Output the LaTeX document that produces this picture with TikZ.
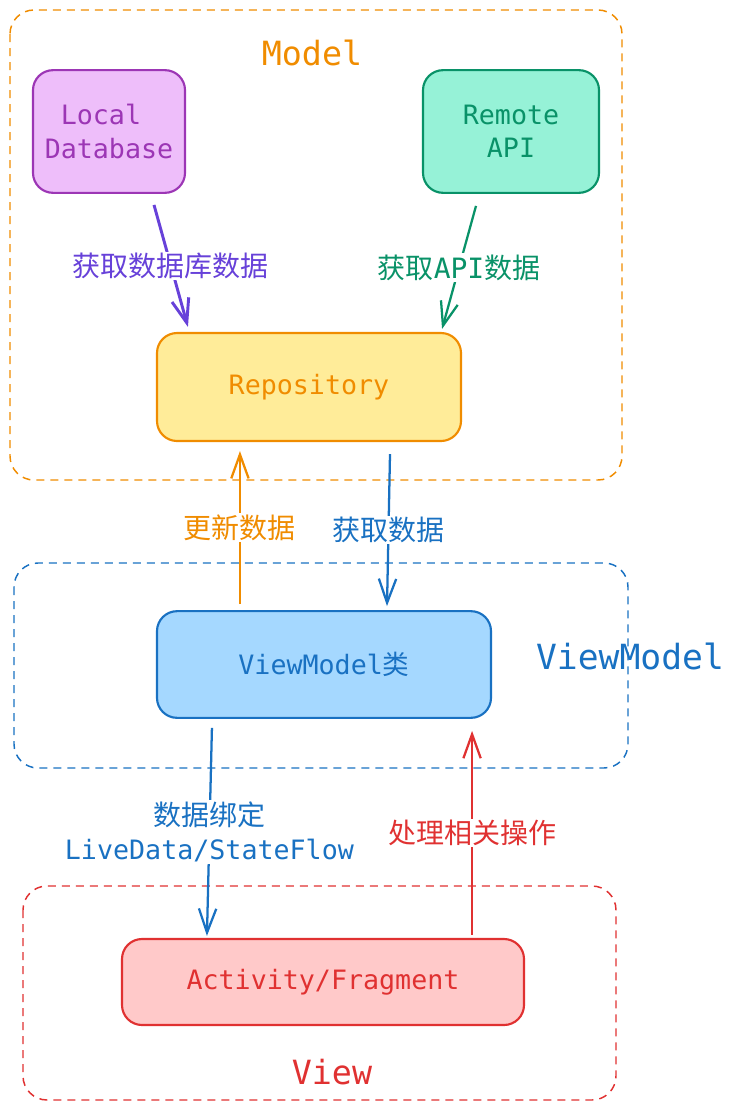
\documentclass[tikz,border=0pt]{standalone}
\usepackage{fontspec}
\setmonofont{DejaVu Sans Mono}
\newfontfamily\cjk{Noto Sans CJK SC}
\usepackage{xcolor}
\usetikzlibrary{arrows.meta}
\definecolor{ModelOrange}{HTML}{F08C00}
\definecolor{RepoFill}{HTML}{FFEC99}
\definecolor{DbPurple}{HTML}{9C36B5}
\definecolor{DbFill}{HTML}{EEBEFA}
\definecolor{ArrowViolet}{HTML}{6741D9}
\definecolor{ApiGreen}{HTML}{099268}
\definecolor{ApiFill}{HTML}{96F2D7}
\definecolor{VmBlue}{HTML}{1971C2}
\definecolor{VmFill}{HTML}{A5D8FF}
\definecolor{ViewRed}{HTML}{E03131}
\definecolor{ViewFill}{HTML}{FFC9C9}

\begin{document}
\begin{tikzpicture}[
    x=0.75pt, y=-0.75pt,
    layer/.style={dashed, dash pattern=on 6pt off 4.5pt, line width=1.1pt, rounded corners=18pt},
    box/.style={rounded corners=15pt, line width=1.6pt, inner sep=0pt, align=center,
                font=\ttfamily\fontsize{20}{25}\selectfont},
    title/.style={font=\ttfamily\fontsize{25}{30}\selectfont},
    flow/.style={line width=1.7pt, -{Straight Barb[length=18pt, width=13pt]}},
    flowlabel/.style={fill=white, inner sep=1pt, align=center,
                      font=\cjk\fontsize{21}{26}\selectfont}
]
\useasboundingbox (0,0) rectangle (735,1110);

% --- Model layer ---
\draw[layer, ModelOrange] (10,10) rectangle (622,480);
\node[title, ModelOrange] (tmodel) at (312,53) {Model};
\node[box, draw=DbPurple, fill=DbFill, text=DbPurple,
      minimum width=114pt, minimum height=92pt] (ldb) at (109,131.5) {Local\hphantom{x}\\Database};
\node[box, draw=ApiGreen, fill=ApiFill, text=ApiGreen,
      minimum width=132pt, minimum height=92pt] (api) at (511,131.5) {Remote\\API};
\node[box, draw=ModelOrange, fill=RepoFill, text=ModelOrange,
      minimum width=228pt, minimum height=81pt] (repo) at (309,387) {Repository};

% --- ViewModel layer ---
\draw[layer, VmBlue] (14,563) rectangle (628,768);
\node[title, VmBlue, font=\ttfamily\fontsize{26}{30}\selectfont] (tvm) at (630,656) {ViewModel};
\node[box, draw=VmBlue, fill=VmFill, text=VmBlue,
      minimum width=250.5pt, minimum height=80pt] (vm) at (324,664.5) {ViewModel{\cjk 类}};

% --- View layer ---
\draw[layer, ViewRed] (23,886) rectangle (616,1100);
\node[title, ViewRed] (tview) at (332,1072) {View};
\node[box, draw=ViewRed, fill=ViewFill, text=ViewRed,
      minimum width=301.5pt, minimum height=64.5pt] (act) at (323,982) {Activity/Fragment};

% --- connectors ---
\draw[flow, ArrowViolet, line width=2.2pt] ([xshift=33.75pt, yshift=-8.25pt]ldb.south)
    -- node[flowlabel, text=ArrowViolet] {获取数据库数据} ([xshift=24pt, yshift=3.75pt]repo.north west);
\draw[flow, ApiGreen] ([xshift=-26.25pt, yshift=-9pt]api.south)
    -- node[flowlabel, text=ApiGreen] {获取{\ttfamily API}数据} ([xshift=-15pt, yshift=2.25pt]repo.north east);
\draw[flow, ModelOrange] ([xshift=63pt, yshift=4.5pt]vm.north west)
    -- node[flowlabel, text=ModelOrange] {更新数据} ([xshift=63pt, yshift=-6.75pt]repo.south west);
\draw[flow, VmBlue] ([xshift=60.75pt, yshift=-9pt]repo.south)
    -- node[flowlabel, text=VmBlue] {获取数据} ([xshift=47.25pt, yshift=3pt]vm.north);
\draw[flow, VmBlue] ([xshift=42pt, yshift=-6.75pt]vm.south west)
    -- node[flowlabel, text=VmBlue] {数据绑定\\{\ttfamily\fontsize{20}{25}\selectfont LiveData/StateFlow}} ([xshift=64.5pt, yshift=1.5pt]act.north west);
\draw[flow, ViewRed] ([xshift=-39.75pt, yshift=2.25pt]act.north east)
    -- node[flowlabel, text=ViewRed] {处理相关操作} ([xshift=-15pt, yshift=-9pt]vm.south east);
\end{tikzpicture}
\end{document}
